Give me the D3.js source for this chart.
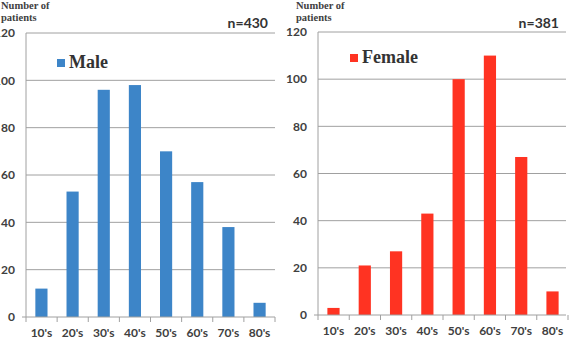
<!DOCTYPE html>
<html>
<head>
<meta charset="utf-8">
<script src="https://cdn.jsdelivr.net/npm/d3@7"></script>
<style>
  html, body { margin: 0; padding: 0; background: #fff; }
  svg { display: block; }
</style>
</head>
<body>
<div id="chart"></div>
<script>
// data
const ageGroups = ["10's", "20's", "30's", "40's", "50's", "60's", "70's", "80's"];
const maleCounts = [12, 53, 96, 98, 70, 57, 38, 6];
const femaleCounts = [3, 21, 27, 43, 100, 110, 67, 10];
const yTicks = [0, 20, 40, 60, 80, 100, 120];

const width = 572, height = 338;

const svg = d3.select("#chart")
  .append("svg")
    .attr("width", width)
    .attr("height", height)
    .attr("viewBox", [0, 0, width, height]);

const tickFont = "Lato, 'Open Sans', sans-serif";
const serifFont = "'Liberation Serif', 'DejaVu Serif', serif";

const drawPanel = (opts) => {
  const g = svg.append("g");

  const xScale = d3.scaleBand()
    .domain(ageGroups)
    .range([opts.left, opts.right])
    .paddingInner(0.61)
    .paddingOuter(0.3);

  const yScale = d3.scaleLinear()
    .domain([0, 120])
    .range([opts.bottom, opts.top]);

  // gridlines
  g.append("g")
    .selectAll("line")
    .data(yTicks.filter(d => d > 0))
    .join("line")
      .attr("x1", opts.left)
      .attr("x2", opts.gridRight)
      .attr("y1", d => yScale(d))
      .attr("y2", d => yScale(d))
      .attr("stroke", "#a0a0a0")
      .attr("stroke-width", 1);

  // bars
  g.append("g")
    .selectAll("rect")
    .data(opts.values)
    .join("rect")
      .attr("x", (d, i) => xScale(ageGroups[i]))
      .attr("y", d => yScale(d))
      .attr("width", xScale.bandwidth())
      .attr("height", d => yScale(0) - yScale(d))
      .attr("fill", opts.color);

  // y axis line
  g.append("line")
    .attr("x1", opts.left).attr("x2", opts.left)
    .attr("y1", yScale(120)).attr("y2", yScale(0))
    .attr("stroke", "#a0a0a0");

  // x axis line + ticks at band boundaries
  g.append("line")
    .attr("x1", opts.left - 4).attr("x2", opts.gridRight)
    .attr("y1", yScale(0)).attr("y2", yScale(0))
    .attr("stroke", "#a0a0a0");

  const step = (opts.right - opts.left) / ageGroups.length;
  g.append("g")
    .selectAll("line")
    .data(d3.range(ageGroups.length + 1))
    .join("line")
      .attr("x1", i => opts.left + i * step)
      .attr("x2", i => opts.left + i * step)
      .attr("y1", yScale(0))
      .attr("y2", yScale(0) + 5)
      .attr("stroke", "#a0a0a0");

  // y tick labels
  g.append("g")
    .selectAll("text")
    .data(yTicks)
    .join("text")
      .attr("x", opts.left - 11)
      .attr("y", d => yScale(d))
      .attr("dy", "0.35em")
      .attr("text-anchor", "end")
      .attr("font-family", tickFont)
      .attr("font-weight", "bold")
      .attr("font-size", 12)
      .attr("fill", "#404040")
      .text(d => d);

  // x tick labels
  g.append("g")
    .selectAll("text")
    .data(ageGroups)
    .join("text")
      .attr("x", d => xScale(d) + xScale.bandwidth() / 2)
      .attr("y", yScale(0) + 20)
      .attr("text-anchor", "middle")
      .attr("font-family", tickFont)
      .attr("font-weight", "bold")
      .attr("font-size", 12)
      .attr("fill", "#404040")
      .text(d => d);

  // y title
  const title = g.append("text")
    .attr("font-family", serifFont)
    .attr("font-weight", "bold")
    .attr("font-size", 10.5)
    .attr("fill", "#404040");
  title.append("tspan").attr("x", opts.titleX).attr("y", 9).text("Number of");
  title.append("tspan").attr("x", opts.titleX).attr("y", 21).text("patients");

  // n label
  g.append("text")
    .attr("x", opts.nRight)
    .attr("y", 28)
    .attr("text-anchor", "end")
    .attr("font-family", tickFont)
    .attr("font-weight", "bold")
    .attr("font-size", 14)
    .attr("fill", "#333")
    .text(opts.nLabel);

  // legend
  g.append("rect")
    .attr("x", opts.legendX)
    .attr("y", opts.legendY - 9)
    .attr("width", 8)
    .attr("height", 8)
    .attr("fill", opts.color);
  g.append("text")
    .attr("x", opts.legendX + 12)
    .attr("y", opts.legendY)
    .attr("font-family", serifFont)
    .attr("font-weight", "bold")
    .attr("font-size", 18)
    .attr("fill", "#333")
    .text(opts.label);
};

drawPanel({
  values: maleCounts, color: "#3d85c8", label: "Male", nLabel: "n=430",
  left: 26, right: 275, gridRight: 275, top: 33, bottom: 317,
  titleX: 1, nRight: 268, legendX: 57, legendY: 68
});

drawPanel({
  values: femaleCounts, color: "#ff3322", label: "Female", nLabel: "n=381",
  left: 318, right: 568, gridRight: 566, top: 32, bottom: 315,
  titleX: 296, nRight: 559, legendX: 350, legendY: 63
});
</script>
</body>
</html>
